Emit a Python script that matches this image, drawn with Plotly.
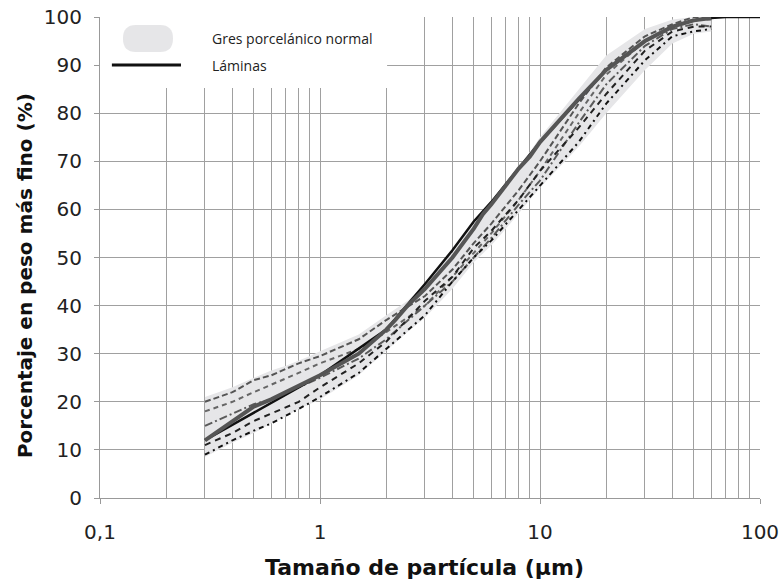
import plotly.graph_objects as go

# ---------------- data ----------------
band_x = [0.3, 0.4, 0.5, 0.6, 0.7, 0.8, 0.9, 1, 1.5, 2, 2.5, 3, 4, 5, 6, 7, 8, 9, 10, 15, 20, 30, 40, 50, 60]
band_upper = [21, 23, 25, 26.5, 27.5, 28.5, 29.5, 30.5, 34, 38, 41, 44.5, 51, 57, 61.5, 65.5, 69, 72, 75, 85, 92, 97.5, 99.5, 100, 100]
band_lower = [8.5, 11.5, 13.5, 15.5, 17, 18.5, 19.5, 20.5, 25.5, 30.5, 34.5, 37.5, 43.5, 49, 52.5, 56, 59, 62, 64.5, 73, 80, 89, 94.5, 96.5, 97]

s_x = [0.3, 0.4, 0.5, 0.6, 0.8, 1, 1.5, 2, 3, 4, 5, 6, 8, 10, 15, 20, 30, 40, 50, 60]
sample1 = [20, 22, 24.5, 25.5, 28, 29.5, 33, 37, 42, 47.5, 53, 57, 64, 70, 82, 89.5, 96, 98.5, 100, 100]
sample2 = [18, 20, 22, 23.5, 26, 28, 31, 34.5, 40, 46, 51, 55, 62, 68, 80, 88, 95, 98, 99.5, 99.5]
sample3 = [15, 17.5, 19.5, 20.5, 23, 25, 29, 33, 40, 45, 50, 54, 61, 66, 78, 86, 94, 97.5, 98.5, 98]
sample4 = [9, 12, 14, 15.5, 18.5, 21, 26, 31, 38, 45, 50, 53.5, 60, 65, 74, 82, 91, 96, 97, 97.5]
sample5 = [11, 13.5, 16, 17.5, 20, 23, 28, 32.5, 41, 46, 52, 55.5, 62, 68, 77, 84, 93, 97, 98, 98]

mean_x = [0.3, 0.4, 0.5, 0.6, 0.7, 0.8, 0.9, 1, 1.5, 2, 2.2, 2.5, 3, 4, 5, 5.5, 6, 7, 8, 9, 10, 15, 20, 30, 40, 50, 60]
mean_y = [12, 16, 19, 20.5, 22, 23.5, 24.5, 25.5, 30, 35, 37, 40, 43.5, 50, 56, 59, 61, 65, 68.5, 71, 74, 83, 89, 95, 98, 99.3, 99.8]

lam_x = [0.3, 1, 2, 3, 4, 5, 6, 10, 20, 30, 40, 50, 60, 70, 100]
lam_y = [12, 25.5, 35, 44.5, 51.5, 57.5, 61.5, 74, 89, 95, 98, 99.3, 99.8, 100, 100]

x_ticks = [0.1, 1, 10, 100]
x_tick_text = ["0,1", "1", "10", "100"]
x_minor = [m * d for d in (0.1, 1, 10) for m in range(2, 10)]
y_ticks = list(range(0, 101, 10))

# ---------------- figure ----------------
fig = go.Figure()

fig.add_trace(go.Scatter(
    x=band_x + band_x[::-1], y=band_upper + band_lower[::-1],
    fill="toself", fillcolor="#e6e6e8", line=dict(width=0),
    mode="lines", showlegend=False, hoverinfo="skip"))

samples = [
    (sample1, "#555555", "6px,3px"),
    (sample2, "#666666", "5px,4px"),
    (sample3, "#5a5a5a", "8px,3px,2px,3px"),
    (sample4, "#111111", "5px,4px,2px,4px"),
    (sample5, "#222222", "6px,5px"),
]
for ys, col, dash in samples:
    fig.add_trace(go.Scatter(x=s_x, y=ys, mode="lines",
                             line=dict(color=col, width=2, dash=dash),
                             showlegend=False, hoverinfo="skip"))

fig.add_trace(go.Scatter(x=lam_x, y=lam_y, mode="lines",
                         line=dict(color="#111111", width=2.5),
                         name="Láminas", showlegend=False))
fig.add_trace(go.Scatter(x=mean_x, y=mean_y, mode="lines",
                         line=dict(color="#555555", width=4),
                         showlegend=False, hoverinfo="skip"))

# manual legend
fig.add_shape(type="rect", xref="paper", yref="paper", x0=0, x1=0.435, y0=0.8524, y1=1,
              fillcolor="white", line=dict(width=0), layer="above")
fig.add_shape(type="path", xref="paper", yref="paper",
              path="M 0.0545 0.9272 L 0.0909 0.9272 Q 0.1106 0.9272 0.1106 0.9553 "
                   "Q 0.1106 0.9834 0.0909 0.9834 L 0.0545 0.9834 Q 0.0348 0.9834 0.0348 0.9553 "
                   "Q 0.0348 0.9272 0.0545 0.9272 Z",
              fillcolor="#e6e6e8", line=dict(width=0), layer="above")
fig.add_shape(type="line", xref="paper", yref="paper", x0=0.018, x1=0.1227, y0=0.9002, y1=0.9002,
              line=dict(color="#111111", width=3), layer="above")
fig.add_annotation(xref="paper", yref="paper", x=0.166, y=0.9563, xanchor="left", yanchor="middle",
                   text="Gres porcelánico normal", showarrow=False,
                   font=dict(family="Open Sans", size=14, color="#222222"))
fig.add_annotation(xref="paper", yref="paper", x=0.166, y=0.9002, xanchor="left", yanchor="middle",
                   text="Láminas", showarrow=False,
                   font=dict(family="Open Sans", size=14, color="#222222"))

# axis titles
fig.add_annotation(xref="paper", yref="paper", x=0.4924, y=-0.1435, xanchor="center", yanchor="middle",
                   text="<b>Tamaño de partícula (µm)</b>", showarrow=False,
                   font=dict(family="DejaVu Sans", size=22, color="#111111"))
fig.add_annotation(xref="paper", yref="paper", x=-0.1136, y=0.4615, xanchor="center", yanchor="middle",
                   text="<b>Porcentaje en peso más fino (%)</b>", showarrow=False, textangle=-90,
                   font=dict(family="DejaVu Sans", size=20, color="#111111"))

fig.update_layout(
    width=780, height=580,
    margin=dict(l=100, r=20, t=17, b=82, autoexpand=False),
    paper_bgcolor="white", plot_bgcolor="white",
    showlegend=False,
)
fig.update_xaxes(
    type="log", range=[-1, 2], automargin=False,
    tickvals=x_ticks, ticktext=x_tick_text,
    tickfont=dict(family="DejaVu Sans", size=20, color="#222222"),
    ticks="outside", ticklen=5, tickcolor="#999999", ticklabelstandoff=11,
    showgrid=True, gridcolor="#a0a0a0", gridwidth=1,
    minor=dict(tickvals=x_minor, showgrid=True, gridcolor="#a0a0a0", gridwidth=1, ticks=""),
    showline=True, linecolor="#999999", linewidth=1,
    zeroline=False,
)
fig.update_yaxes(
    range=[0, 100], tickvals=y_ticks, automargin=False,
    tickfont=dict(family="DejaVu Sans", size=20, color="#222222"),
    ticks="outside", ticklen=5, tickcolor="#999999", ticklabelstandoff=8,
    showgrid=True, gridcolor="#a0a0a0", gridwidth=1,
    showline=True, linecolor="#999999", linewidth=1,
    zeroline=False,
)

fig.write_html("out.html")
